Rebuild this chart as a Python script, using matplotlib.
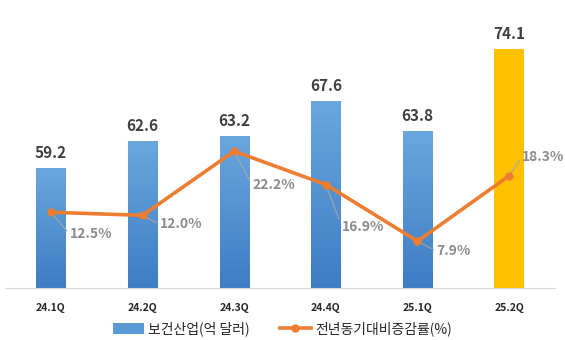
import numpy as np
import matplotlib
matplotlib.use("Agg")
import matplotlib.pyplot as plt
from matplotlib.colors import LinearSegmentedColormap
from matplotlib.patches import Patch
from matplotlib.lines import Line2D

plt.rcParams['font.family'] = ['Noto Sans CJK KR', 'DejaVu Sans']

quarters = ['24.1Q', '24.2Q', '24.3Q', '24.4Q', '25.1Q', '25.2Q']
exports = [59.2, 62.6, 63.2, 67.6, 63.8, 74.1]        # 억 달러
growth = [12.5, 12.0, 22.2, 16.9, 7.9, 18.3]          # 전년동기대비 %
label_offsets = [(19, -22), (17, -9), (18, -34), (16, -42), (19, -10), (13, 19)]

fig = plt.figure(figsize=(5.65, 3.4), dpi=100)
ax = fig.add_axes([5 / 565, 52 / 340, 550 / 565, 288 / 340])
ax2 = ax.twinx()

x = np.arange(len(quarters))
bar_w = 0.32
y_min, y_max = 44.2, 80.25
ax.set_xlim(-0.5, len(quarters) - 0.5)
ax.set_ylim(y_min, y_max)
ax2.set_ylim(0.45, 46.25)

# bars with a light-to-dark vertical gradient, last quarter highlighted
blue_grad = LinearSegmentedColormap.from_list('bg', ['#3d7dc4', '#6aa6de'])
grad = np.linspace(0, 1, 256).reshape(-1, 1)
for i, v in enumerate(exports):
    left, right = x[i] - bar_w / 2, x[i] + bar_w / 2
    if i == len(exports) - 1:
        ax.bar(x[i], v - y_min, bottom=y_min, width=bar_w, color='#ffc000', zorder=2)
    else:
        bar = ax.bar(x[i], v - y_min, bottom=y_min, width=bar_w, color='none', zorder=2)[0]
        im = ax.imshow(grad, cmap=blue_grad, aspect='auto', origin='lower',
                       extent=(left, right, y_min, v), zorder=2)
        im.set_clip_path(bar)
    ax.annotate(f'{v:.1f}', (x[i], v), xytext=(0, 7), textcoords='offset pixels',
                ha='center', va='bottom', fontsize=11, fontweight='bold', color='#404040')
ax.set_xlim(-0.5, len(quarters) - 0.5)
ax.set_ylim(y_min, y_max)

# growth rate line
ax2.plot(x, growth, color='#ed7d31', lw=2.6, marker='o', ms=5, zorder=4)
for i, g in enumerate(growth):
    ax2.annotate(f'{g:.1f}%', (x[i], g), xytext=label_offsets[i], textcoords='offset pixels',
                 ha='left', va='center', fontsize=10, fontweight='bold', color='#8c8c8c',
                 arrowprops=dict(arrowstyle='-', color='#a6a6a6', lw=0.8,
                                 shrinkA=0, shrinkB=1, relpos=(0, 0.5)))

for a in (ax, ax2):
    for s in a.spines.values():
        s.set_visible(False)
    a.set_yticks([])
ax.spines['bottom'].set_visible(True)
ax.spines['bottom'].set_color('#d9d9d9')
ax.set_xticks(x)
ax.set_xticklabels(quarters, fontsize=7.5, fontweight='bold', color='#262626')
ax.tick_params(axis='x', length=0, pad=11)
ax2.set_zorder(ax.get_zorder() + 1)
ax2.patch.set_visible(False)

handles = [Patch(facecolor='#5b9bd5', edgecolor='none'),
           Line2D([0], [0], color='#ed7d31', lw=2.6, marker='o', ms=5)]
fig.legend(handles, ['보건산업(억 달러)', '전년동기대비증감률(%)'], loc='center',
           bbox_to_anchor=(0.5, 11 / 340), ncol=2, frameon=False, fontsize=10,
           handlelength=2.2, handleheight=0.9, columnspacing=2.2, handletextpad=0.3,
           labelcolor='#262626')

fig.savefig('out.png', dpi=100)
